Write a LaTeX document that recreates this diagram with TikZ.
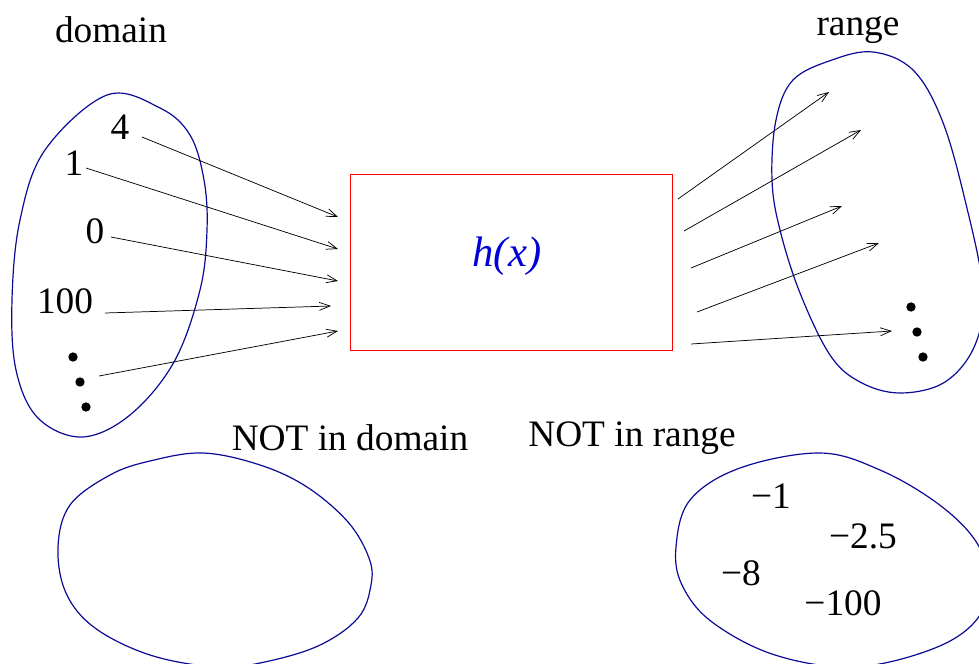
\documentclass[tikz,border=0pt]{standalone}
\usepackage{fontspec}
\setmainfont{Liberation Serif}
\usetikzlibrary{arrows.meta}
\definecolor{blobblue}{RGB}{10,10,150}
\definecolor{hblue}{RGB}{0,0,215}
\tikzset{
  lbl/.style={inner sep=0pt, font=\fontsize{28}{33}\selectfont},
  blob/.style={draw=blobblue, line width=0.9pt},
  maparrow/.style={line width=0.55pt, -{Straight Barb[length=8pt,width=6pt]}},
  bigdot/.style={circle, fill=black, inner sep=0pt, minimum size=7pt},
  fbox/.style={draw=red, line width=0.7pt, minimum width=241.5pt, minimum height=132pt, inner sep=0pt}
}
\begin{document}
\begin{tikzpicture}[x=0.75pt,y=-0.75pt]
\useasboundingbox (0,0) rectangle (979,664);
\clip (0,0) rectangle (979,664);
% blobs
\draw[blob] plot[smooth cycle, tension=0.6] coordinates {(107,95) (160,108) (190,135) (204,180) (207,230) (200,290) (174,362) (130,415) (82,437) (38,418) (16,370) (12,300) (20,220) (45,150)};
\draw[blob] plot[smooth cycle, tension=0.6] coordinates {(873,52) (913,70) (942,120) (965,200) (983,290) (975,345) (945,382) (900,393) (860,382) (830,355) (800,293) (780,230) (772,180) (776,120) (793,80) (832,60)};
\draw[blob] plot[smooth cycle, tension=0.6] coordinates {(203,453) (260,465) (307,487) (348,522) (369,558) (371,585) (358,618) (318,646) (260,663) (215,667) (150,655) (95,628) (66,593) (58,547) (70,505) (110,475) (150,461)};
\draw[blob] plot[smooth cycle, tension=0.6] coordinates {(820,453) (880,470) (937,503) (975,540) (988,578) (978,618) (935,648) (855,667) (775,655) (712,622) (682,585) (676,547) (690,500) (740,468)};
% function box
\node[fbox] (box) at (511,262) {};
\node[inner sep=0pt, font=\fontsize{32}{37}\selectfont\itshape, text=hblue] (h) at (507,256) {h(x)};
% labels
\node[lbl] (domain) at (111,30) {domain};
\node[lbl] (range) at (858,30) {range};
\node[lbl] (notdom) at (350,438) {NOT in domain};
\node[lbl] (notran) at (632,438) {NOT in range};
\node[lbl] (n4) at (120,127) {4};
\node[lbl] (n1) at (74,163) {1};
\node[lbl] (n0) at (95,231) {0};
\node[lbl] (n100) at (65,301) {100};
\node[lbl] (m1) at (771,496) {−1};
\node[lbl] (m25) at (863,536) {−2.5};
\node[lbl] (m8) at (741,573) {−8};
\node[lbl] (m100) at (843,603) {−100};
% dots
\node[bigdot] (ld1) at (73,357) {};
\node[bigdot] (ld2) at (80,382) {};
\node[bigdot] (ld3) at (86,407) {};
\node[bigdot] (rd1) at (911,307) {};
\node[bigdot] (rd2) at (917,332) {};
\node[bigdot] (rd3) at (923,357) {};
% arrow endpoints
\coordinate (a1s) at (142,137); \coordinate (a1e) at (338,217);
\coordinate (a2s) at (86,168);  \coordinate (a2e) at (338,249);
\coordinate (a3s) at (111,237); \coordinate (a3e) at (338,281);
\coordinate (a4s) at (105,313); \coordinate (a4e) at (331,306);
\coordinate (a5s) at (99,376);  \coordinate (a5e) at (338,331);
\coordinate (b1s) at (678,199); \coordinate (b1e) at (829,92);
\coordinate (b2s) at (684,231); \coordinate (b2e) at (861,130);
\coordinate (b3s) at (691,268); \coordinate (b3e) at (842,206);
\coordinate (b4s) at (697,312); \coordinate (b4e) at (879,243);
\coordinate (b5s) at (691,344); \coordinate (b5e) at (892,331);
\foreach \i in {1,...,5}{
  \draw[maparrow] (a\i s) -- (a\i e);
  \draw[maparrow] (b\i s) -- (b\i e);
}
\end{tikzpicture}
\end{document}
